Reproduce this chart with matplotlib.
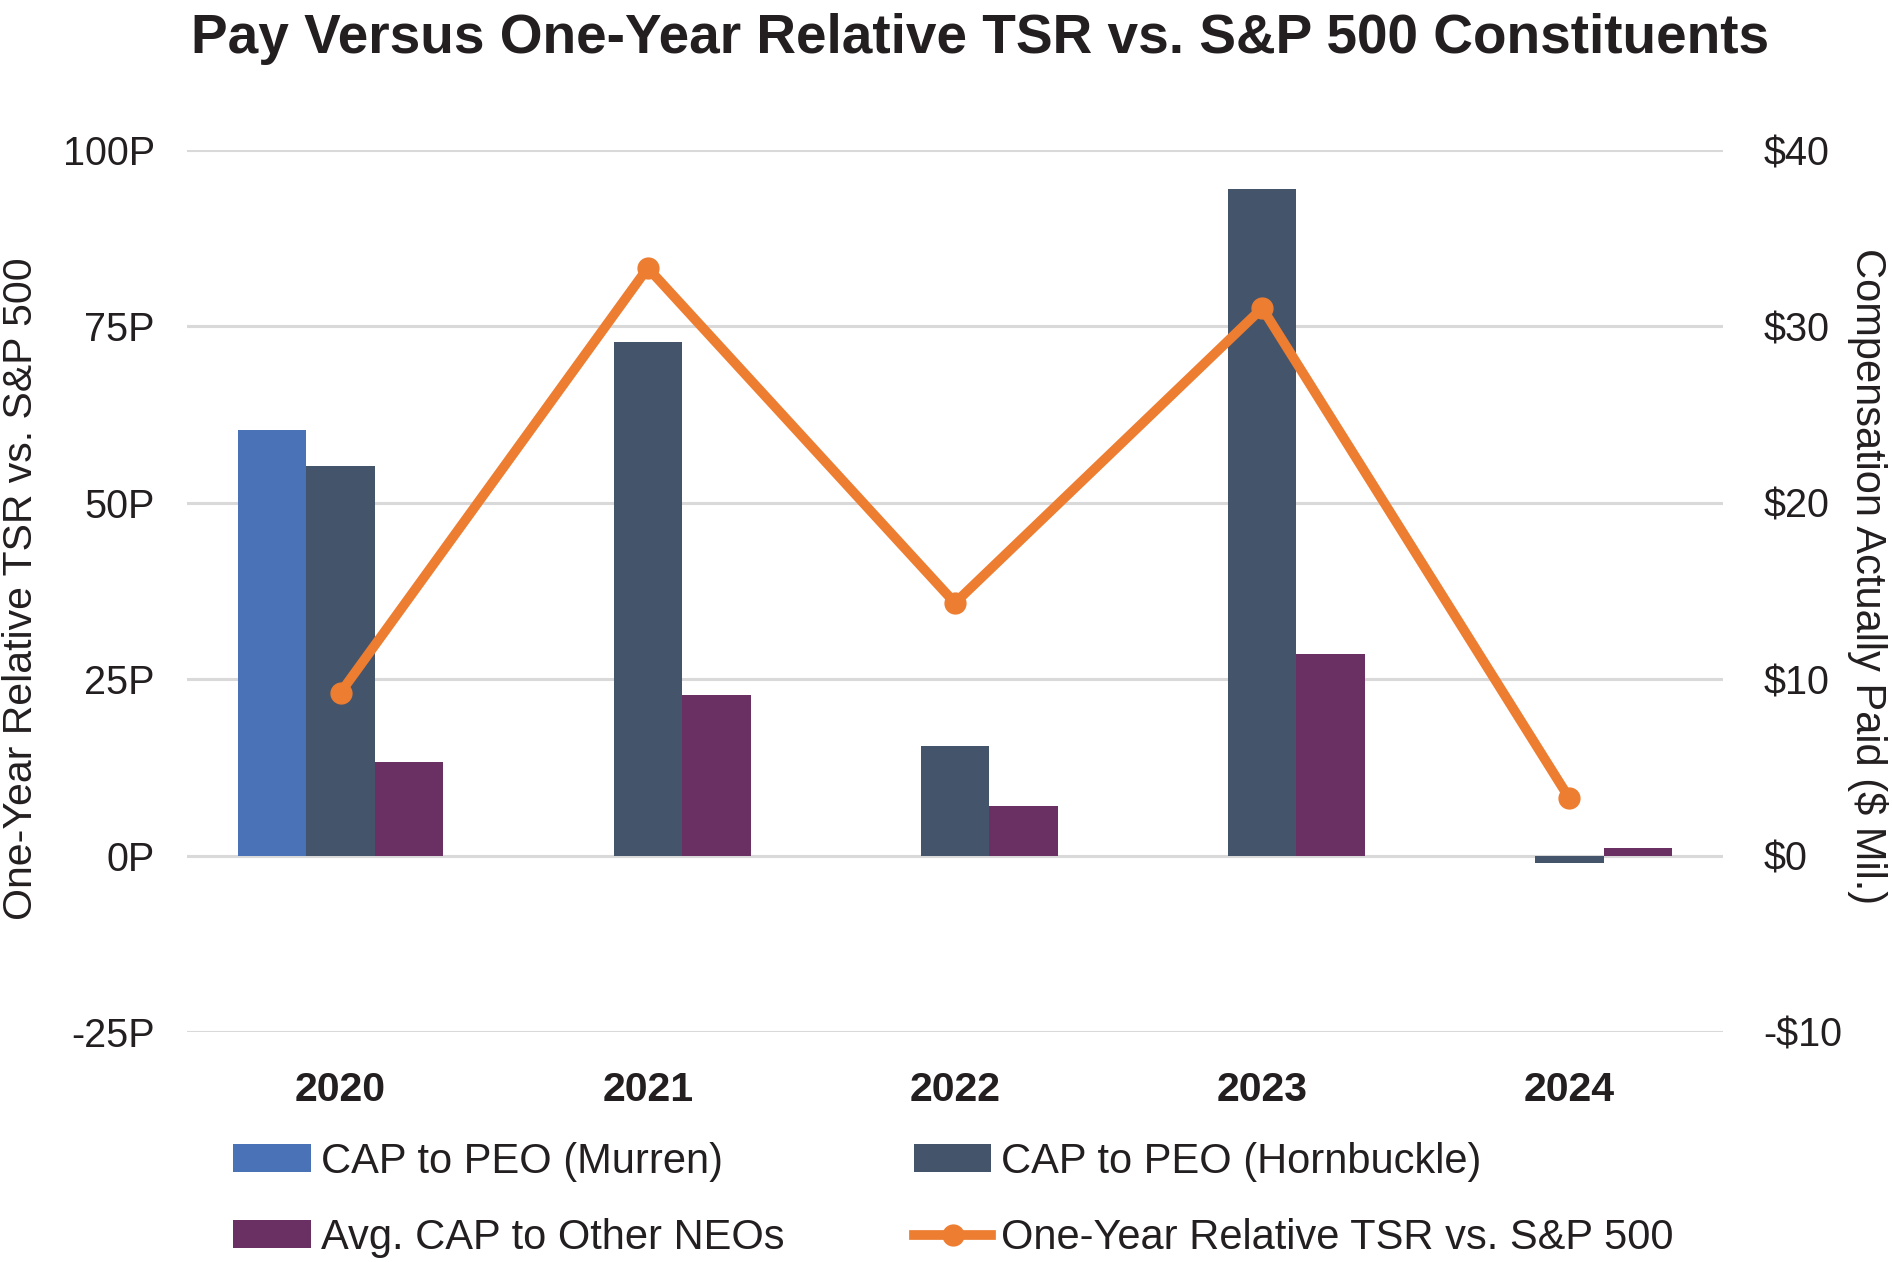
import numpy as np
import matplotlib
matplotlib.use("Agg")
import matplotlib.pyplot as plt
from matplotlib.patches import Patch
from matplotlib.lines import Line2D

plt.rcParams['font.family'] = ['Liberation Sans', 'DejaVu Sans']

# ---- data ----
years = ['2020', '2021', '2022', '2023', '2024']
cap_murren = [24.1, np.nan, np.nan, np.nan, np.nan]      # $ Mil.
cap_hornbuckle = [22.1, 29.1, 6.2, 37.8, -0.45]           # $ Mil.
avg_cap_other = [5.3, 9.1, 2.8, 11.4, 0.45]               # $ Mil.
tsr_percentile = [23.1, 83.3, 35.8, 77.6, 8.1]            # percentile
left_ticks = [-25, 0, 25, 50, 75, 100]
left_labels = ['-25P', '0P', '25P', '50P', '75P', '100P']
right_ticks = [-10, 0, 10, 20, 30, 40]
right_labels = ['-$10', '$0', '$10', '$20', '$30', '$40']

series_names = ['CAP to PEO (Murren)', 'CAP to PEO (Hornbuckle)',
                'Avg. CAP to Other NEOs', 'One-Year Relative TSR vs. S&P 500']

c_murren = '#4A72B6'
c_horn = '#44546A'
c_other = '#6A2F63'
c_orange = '#ED7D31'
c_text = '#231F20'
c_grid = '#D9D9D9'

fig = plt.figure(figsize=(18.92, 12.62), dpi=100)
ax = fig.add_axes([0.0988, 0.1823, 0.8119, 0.6988])
ax2 = ax.twinx()

x = np.arange(len(years))
w = 0.223

# bars on ax (right-side $ scale)
ax.bar(x - w, cap_murren, w, color=c_murren, zorder=2)
ax.bar(x, cap_hornbuckle, w, color=c_horn, zorder=2)
ax.bar(x + w, avg_cap_other, w, color=c_other, zorder=2)
ax.set_ylim(-10, 40)
ax.set_yticks(right_ticks)
ax.set_yticklabels(right_labels)
ax.yaxis.tick_right()
ax.yaxis.set_label_position('right')
ax.set_axisbelow(True)
ax.grid(axis='y', color=c_grid, linewidth=2.2, zorder=0)
ax.set_xlim(-0.5, len(years) - 0.5)
ax.set_xticks(x)
ax.set_xticklabels(years, fontsize=29.5, fontweight='bold', color=c_text)
ax.tick_params(axis='x', length=0, pad=28)
ax.tick_params(axis='y', length=0, pad=29, labelsize=28.5, labelcolor=c_text)
ax.set_ylabel('Compensation Actually Paid ($ Mil.)', fontsize=30, color=c_text,
              rotation=270, va='center')
ax.yaxis.set_label_coords(1.094, 0.517)

# line on ax2 (left-side percentile scale)
ax2.plot(x, tsr_percentile, color=c_orange, linewidth=7, marker='o',
         markersize=15, solid_joinstyle='miter', zorder=3)
ax2.set_ylim(-25, 100)
ax2.set_yticks(left_ticks)
ax2.set_yticklabels(left_labels)
ax2.yaxis.tick_left()
ax2.yaxis.set_label_position('left')
ax2.tick_params(axis='y', length=0, pad=23, labelsize=28.5, labelcolor=c_text)
ax2.set_ylabel('One-Year Relative TSR vs. S&P 500', fontsize=29.5, color=c_text,
               rotation=90, va='center')
ax2.yaxis.set_label_coords(-0.108, 0.503)

for a in (ax, ax2):
    for s in a.spines.values():
        s.set_visible(False)

# title
fig.text(0.518, 1 - 53 / 1262, 'Pay Versus One-Year Relative TSR vs. S&P 500 Constituents',
         ha='center', va='baseline', fontsize=39.6, fontweight='bold', color=c_text)

# legend
handles = [Patch(facecolor=c_murren), Patch(facecolor=c_other),
           Patch(facecolor=c_horn),
           Line2D([0], [0], color=c_orange, linewidth=7, marker='o', markersize=15)]
labels = [series_names[0], series_names[2], series_names[1], series_names[3]]
fig.legend(handles, labels, ncol=2, loc='upper left',
           bbox_to_anchor=(233 / 1892, 1 - 1142 / 1262),
           frameon=False, fontsize=30, borderpad=0, borderaxespad=0,
           handlelength=1.87, handleheight=0.65, handletextpad=0.24,
           columnspacing=3.1, labelspacing=0.86, labelcolor=c_text)

fig.savefig('out.png', dpi=100)
